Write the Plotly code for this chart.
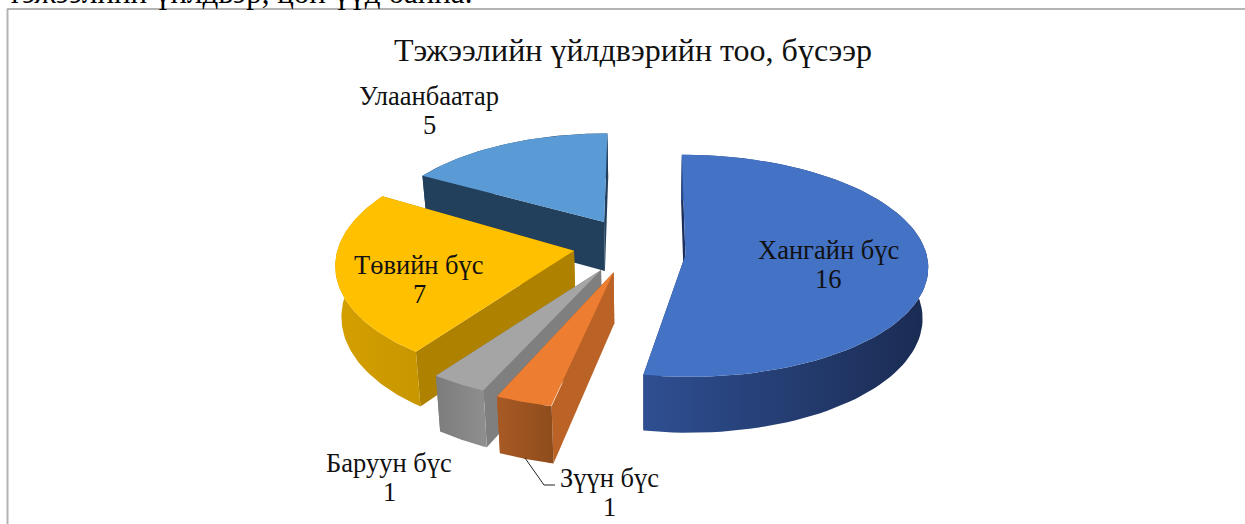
import numpy as np
import plotly.graph_objects as go

# Data
categories = ["Хангайн бүс", "Зүүн бүс", "Баруун бүс", "Төвийн бүс", "Улаанбаатар"]
values = [16, 1, 1, 7, 5]
title_text = "Тэжээлийн үйлдвэрийн тоо, бүсээр"
top_text = "тэжээлийн үйлдвэр, цөн үүд байна."

# Style: colours per slice
top_colors = ["#4472c4", "#ed7d31", "#a5a5a5", "#ffc000", "#5b9bd5"]
start_wall = ["#1d2f5c", "#bb6226", "#7f7f7f", "#ae8200", "#223f5c"]
end_wall = ["#1d2f5c", "#a85a24", "#7f7f7f", "#ae8200", "#223f5c"]
arc_left = ["#2f4f92", "#a85a24", "#7c7c7c", "#d49f00", "#223f5c"]
arc_right = ["#1a2b52", "#8e4c1c", "#8f8f8f", "#c89600", "#223f5c"]
# Exploded-pie geometry per slice: apex offset, radius scaling, end-angle trim (degrees)
offset_x = [0.165, -0.126, -0.177, -0.291, -0.172]
offset_y = [-0.082, -0.238, -0.216, -0.043, 0.227]
radius_x = [0.985, 1.01, 1.01, 0.97, 0.93]
radius_y = [1.0, 1.08, 1.06, 1.05, 0.93]
end_trim = [-2.0, 0, 0, 0, 0]

# Projection of the tilted pie
VX, VY, A, B, K, H = 645.0, -870.0, 243.0, 1116.0, 0.097, 50.0


def proj(x, y, z=0.0):
    w = 1 + K * np.asarray(y, float)
    sx = VX + A * np.asarray(x, float) / w * (1 - 0.02 * z)
    sy = VY + B / w + H * z / w
    return sx, sy


fig = go.Figure()


def poly(px, py, color=None, grad=None):
    kw = dict(fillcolor=color) if grad is None else dict(fillgradient=grad)
    fig.add_trace(go.Scatter(x=list(px), y=list(py), mode="lines", fill="toself",
                             line=dict(width=0), hoverinfo="skip", showlegend=False, **kw))


edges = np.cumsum([0] + values) / sum(values) * 2 * np.pi

for i in [4, 3, 2, 1, 0]:
    a0, a1 = edges[i], edges[i + 1] + np.radians(end_trim[i])
    ox, oy = offset_x[i], offset_y[i]
    t = np.linspace(a0, a1, 90)
    ax, ay = ox + radius_x[i] * np.sin(t), oy + radius_y[i] * np.cos(t)
    wz = np.array([0, 0, 1, 1.0])
    # end wall
    sx, sy = proj(np.array([ox, ax[-1], ax[-1], ox]), np.array([oy, ay[-1], ay[-1], oy]), wz)
    poly(sx, sy, end_wall[i])
    # start wall
    sx, sy = proj(np.array([ox, ax[0], ax[0], ox]), np.array([oy, ay[0], ay[0], oy]), wz)
    poly(sx, sy, start_wall[i])
    # arc wall
    sx0, sy0 = proj(ax, ay, 0.0)
    sx1, sy1 = proj(ax, ay, 1.0)
    px = np.concatenate([sx0, sx1[::-1]])
    py = np.concatenate([sy0, sy1[::-1]])
    poly(px, py, grad=dict(type="horizontal", start=float(px.min()), stop=float(px.max()),
                           colorscale=[[0, arc_left[i]], [1, arc_right[i]]]))
    # top face
    cx, cy = proj(ox, oy)
    poly(np.concatenate([[cx], sx0]), np.concatenate([[cy], sy0]), top_colors[i])

# Leader line for Зүүн бүс
fig.add_trace(go.Scatter(x=[525, 544, 555], y=[458, 485, 485], mode="lines",
                         line=dict(color="#222222", width=1), hoverinfo="skip", showlegend=False))

FONT = "Liberation Serif, Times New Roman, serif"
label_pos = [(828, 250), (609, 478), (389, 463), (419, 265), (429, 96)]
annotations = []
for (x, y), n, v in zip(label_pos, categories, values):
    annotations.append(dict(x=x, y=y, text=n, showarrow=False, xanchor="center", yanchor="middle",
                            font=dict(family=FONT, size=26.5, color="#111111")))
    annotations.append(dict(x=x, y=y + 29, text=str(v), showarrow=False, xanchor="center", yanchor="middle",
                            font=dict(family=FONT, size=26.5, color="#111111")))
annotations.append(dict(x=633, y=50, text=title_text, showarrow=False, xanchor="center", yanchor="middle",
                        font=dict(family=FONT, size=32, color="#111111")))
annotations.append(dict(x=6, xref="x", y=1, yref="paper", yshift=8, text=top_text, showarrow=False,
                        xanchor="left", yanchor="middle", font=dict(family=FONT, size=31, color="#000000")))

fig.update_layout(
    width=1245, height=524, margin=dict(l=0, r=0, t=0, b=0),
    paper_bgcolor="white", plot_bgcolor="white", showlegend=False,
    xaxis=dict(range=[0, 1245], visible=False, fixedrange=True),
    yaxis=dict(range=[524, 0], visible=False, fixedrange=True),
    annotations=annotations,
    shapes=[
        dict(type="line", x0=7.5, x1=7.5, y0=9, y1=524, line=dict(color="#b4b4b4", width=2), layer="below"),
        dict(type="line", x0=7, x1=1245, y0=9, y1=9, line=dict(color="#b4b4b4", width=2), layer="below"),
    ],
)
fig.write_html("out.html", config=dict(displayModeBar=False),
               post_script="document.body.style.margin='0';document.body.style.overflow='hidden';")
